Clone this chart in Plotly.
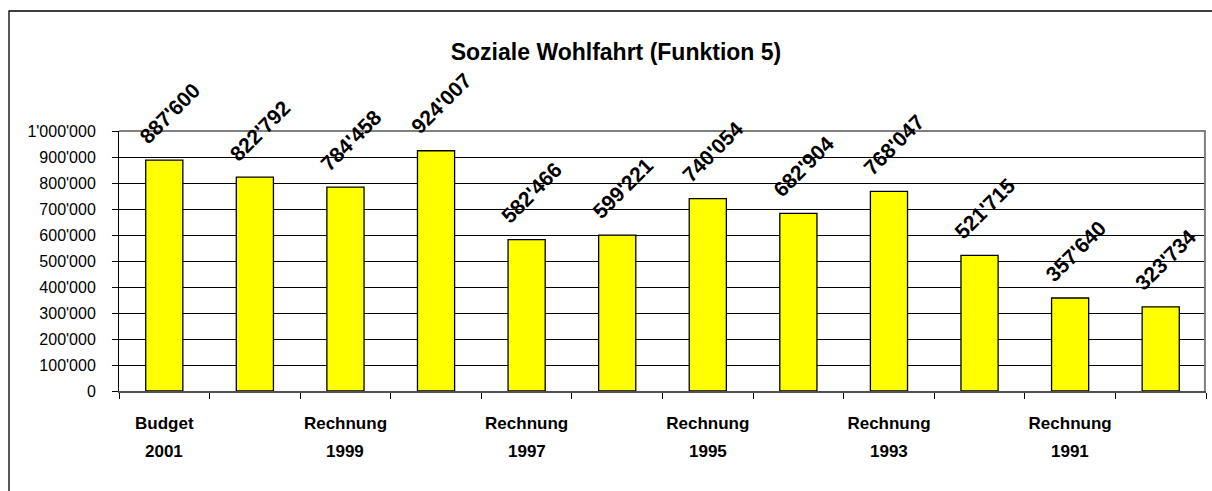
import plotly.graph_objects as go

title = "Soziale Wohlfahrt (Funktion 5)"
categories = ["Budget 2001", "Rechnung 2000", "Rechnung 1999", "Rechnung 1998",
              "Rechnung 1997", "Rechnung 1996", "Rechnung 1995", "Rechnung 1994",
              "Rechnung 1993", "Rechnung 1992", "Rechnung 1991", "Rechnung 1990"]
values = [887600, 822792, 784458, 924007, 582466, 599221,
          740054, 682904, 768047, 521715, 357640, 323734]
y_ticks = [0, 100000, 200000, 300000, 400000, 500000, 600000, 700000, 800000, 900000, 1000000]

FONT = "Liberation Sans, Arial, sans-serif"
positions = list(range(len(categories)))
labelled = [i for i in positions if i % 2 == 0]

fig = go.Figure()
fig.add_trace(go.Bar(
    x=positions, y=values, width=0.41,
    marker=dict(color="#FFFF00", line=dict(color="#000000", width=1.3)),
    hoverinfo="skip",
))

annotations = []
for i, v in zip(positions, values):
    annotations.append(dict(
        x=i, y=v, xref="x", yref="y",
        text="<b>" + f"{v:,}".replace(",", "'") + "</b>",
        textangle=-45, showarrow=False, xanchor="center", yanchor="middle",
        xshift=5, yshift=47,
        font=dict(family=FONT, size=21, color="#000000"),
    ))
for i in labelled:
    annotations.append(dict(
        x=i, y=-0.2346, xref="x", yref="paper",
        text="<b>" + categories[i].split()[1] + "</b>",
        showarrow=False, xanchor="center", yanchor="middle",
        font=dict(family=FONT, size=17, color="#000000"),
    ))

fig.update_layout(
    width=1212, height=491,
    margin=dict(l=119, r=6, t=131, b=100, pad=0, autoexpand=False),
    paper_bgcolor="#FFFFFF", plot_bgcolor="#FFFFFF",
    showlegend=False,
    separators=".'",
    title=dict(text="<b>" + title + "</b>", x=616 / 1212, xref="container", xanchor="center",
               y=1 - 52 / 491, yref="container", yanchor="middle", automargin=False,
               font=dict(family=FONT, size=23, color="#000000")),
    annotations=annotations,
    shapes=[
        dict(type="rect", xref="paper", yref="paper",
             x0=(9 - 119) / 1087, x1=1.2, y0=-0.6, y1=(391 - 11) / 260,
             line=dict(color="#000000", width=1.3), layer="below"),
        dict(type="line", xref="paper", yref="paper", x0=0, x1=1, y0=1, y1=1,
             line=dict(color="#808080", width=2)),
        dict(type="line", xref="paper", yref="paper", x0=0.999, x1=0.999, y0=0, y1=1,
             line=dict(color="#808080", width=2)),
    ],
)

fig.update_xaxes(
    automargin=False,
    range=[-0.5, len(categories) - 0.5],
    tickmode="array", tickvals=labelled,
    ticktext=["<b>" + categories[i].split()[0] + "</b>" for i in labelled],
    ticks="", showgrid=False, zeroline=False,
    showline=True, linecolor="#505050", linewidth=2,
    tickfont=dict(family=FONT, size=17, color="#000000"),
    ticklabelstandoff=16,
    minor=dict(tickmode="linear", tick0=-0.5, dtick=1, ticks="outside",
               ticklen=6, tickcolor="#000000", tickwidth=1, showgrid=False),
)
fig.update_yaxes(
    automargin=False,
    range=[0, 1000000], tickmode="array", tickvals=y_ticks,
    tickformat=",d",
    ticks="outside", ticklen=6, tickcolor="#000000", tickwidth=1,
    showgrid=True, gridcolor="#000000", gridwidth=1,
    zeroline=False, showline=True, linecolor="#000000", linewidth=1,
    tickfont=dict(family=FONT, size=16, color="#000000"),
    ticklabelstandoff=13,
)

fig.write_html("out.html", config={"displayModeBar": False},
               post_script="document.body.style.margin='0';")
